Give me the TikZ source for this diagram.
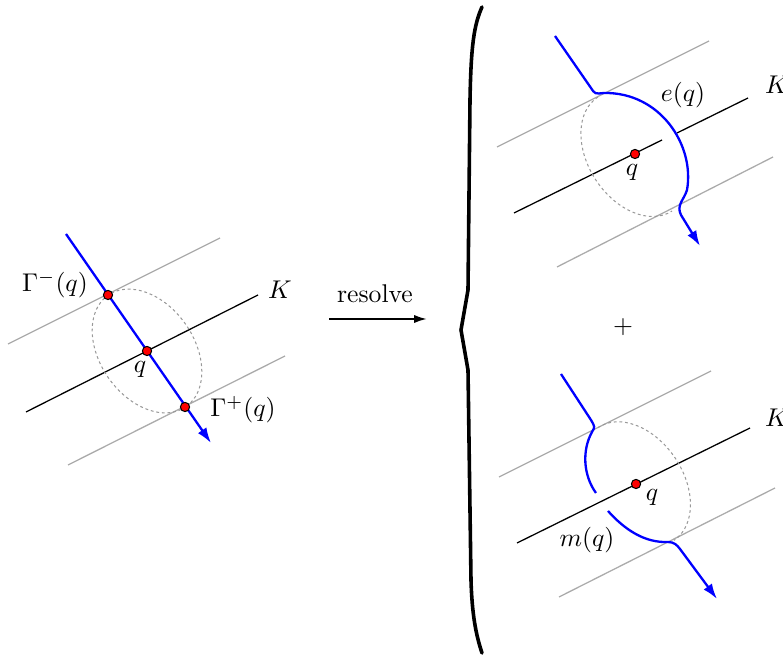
\documentclass[tikz,border=0pt]{standalone}
\usetikzlibrary{arrows.meta}

\tikzset{
  strip/.style={black!33,line width=0.5pt},
  knot/.style={black,line width=0.5pt},
  strand/.style={blue,line width=0.9pt},
  ell/.style={black!40,line width=0.4pt,dash pattern=on 1.1pt off 1.1pt},
  dot/.style={draw,circle,fill=red,inner sep=0pt,minimum size=3.6pt,line width=0.4pt},
  tip/.style={-{Latex[length=6pt,width=4pt]}}
}

\begin{document}
\begin{tikzpicture}[x=0.39pt,y=-0.39pt]
\useasboundingbox (0,0) rectangle (783,656);

% left: the crossing point q on K
\draw[strip] (8,344) -- (220,238);
\draw[strip] (68,465) -- (285,356);
\draw[knot] (26,412) -- (258,295);
\draw[ell,rotate around={-55:(147,351)}] (147,351) ellipse (68 and 47);
\coordinate (in1) at (66,234);
\coordinate (out1) at (211,443);
\draw[strand,tip] (in1) -- (out1);
\node[dot] (gm) at (108,295) {};
\node[dot] (q1) at (147,351) {};
\node[dot] (gp) at (185,407) {};
\node (lgm) at (55,285) {$\Gamma^-(q)$};
\node (lq1) at (140,369) {$q$};
\node (lgp) at (243,410) {$\Gamma^+(q)$};
\node (k1) at (280,290) {$K$};

% resolve arrow and brace
\node (res) at (375,294) {resolve};
\coordinate (ra) at (329,319);
\coordinate (rb) at (427,319);
\draw[line width=0.8pt,-{Latex[length=5pt,width=3.2pt]}] (ra) -- (rb);
\coordinate (bt) at (482,7);
\coordinate (btip) at (461,330);
\coordinate (bb) at (482,653);
\draw[line width=1.4pt,line join=round,line cap=round] (bt)
  .. controls (474,25) and (471,45) .. (470,100) -- (468,290) -- (btip)
  -- (468,370) -- (471,580) .. controls (472,615) and (476,635) .. (bb);
\node (plus) at (623,327) {$+$};

% top right: e(q)
\draw[strip] (497,147) -- (709,41);
\draw[strip] (557,267) -- (773,157);
\draw[knot] (514,213) -- (662,140);
\draw[knot] (677,133) -- (748,98);
\draw[ell,rotate around={-57:(635,154)}] (567,154) arc[start angle=180,end angle=0,x radius=68,y radius=47];
\coordinate (in2) at (555,36);
\coordinate (out2) at (700,246);
\draw[strand,tip] (in2) -- (591,88) .. controls (595,94) .. (604,93)
  .. controls (660,92) and (695,145) .. (687,190)
  .. controls (684,200) and (676,205) .. (681,215) -- (out2);
\node[dot] (q2) at (635,154) {};
\node (lq2) at (632,172) {$q$};
\node (le) at (683,95) {$e(q)$};
\node (k2) at (777,85) {$K$};

% bottom right: m(q)
\draw[strip] (499,477) -- (711,371);
\draw[strip] (559,597) -- (775,488);
\draw[knot] (517,543) -- (750,428);
\draw[ell,rotate around={-56:(636,484)}] (568,484) arc[start angle=180,end angle=360,x radius=68,y radius=47];
\coordinate (in3) at (561,374);
\coordinate (out3) at (717,599);
\draw[strand] (in3) -- (591,420) .. controls (595,427) .. (592,432)
  .. controls (582,450) and (583,475) .. (596,493);
\draw[strand,tip] (608,511) .. controls (625,530) and (645,543) .. (668,542)
  .. controls (674,542) and (677,545) .. (680,549) -- (out3);
\node[dot] (q3) at (636,484) {};
\node (lq3) at (652,497) {$q$};
\node (lm) at (587,540) {$m(q)$};
\node (k3) at (777,418) {$K$};
\end{tikzpicture}
\end{document}
